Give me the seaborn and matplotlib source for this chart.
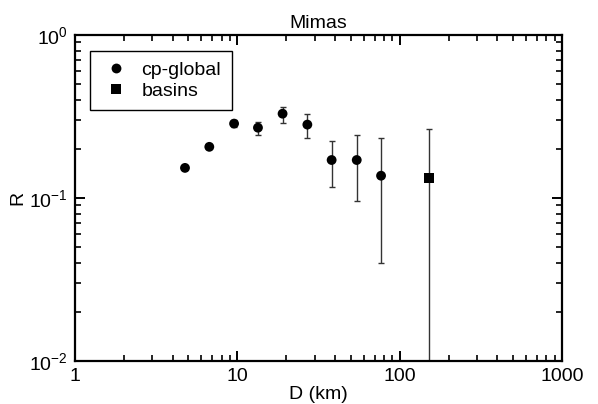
import numpy as np
import pandas as pd
import matplotlib
matplotlib.use("Agg")
import matplotlib.pyplot as plt
from matplotlib.ticker import LogLocator, NullFormatter, FixedLocator
import seaborn as sns

# ---- data ----
diam_km = [4.76, 6.72, 9.55, 13.4, 19.0, 27.0, 38.1, 54.4, 76.8, 152.0]
r_value = [0.153, 0.206, 0.286, 0.270, 0.329, 0.282, 0.171, 0.171, 0.137, 0.133]
r_low   = [0.153, 0.206, 0.272, 0.243, 0.287, 0.232, 0.116, 0.096, 0.040, 0.001]
r_high  = [0.153, 0.206, 0.300, 0.292, 0.364, 0.328, 0.223, 0.245, 0.232, 0.266]
group   = ["cp-global"] * 9 + ["basins"]
x_ticks = [1, 10, 100, 1000]
x_tick_labels = ["1", "10", "100", "1000"]
y_ticks = [0.01, 0.1, 1]
y_tick_labels = [r"$\mathregular{10^{-2}}$", r"$\mathregular{10^{-1}}$", r"$\mathregular{10^{0}}$"]

df = pd.DataFrame({"D": diam_km, "R": r_value, "lo": r_low, "hi": r_high, "group": group})

sns.set_style("ticks")
plt.rcParams["font.family"] = ["Liberation Sans", "DejaVu Sans"]
plt.rcParams["text.color"] = "black"
plt.rcParams["axes.labelcolor"] = "black"

fig = plt.figure(figsize=(5.98, 4.04), dpi=100)
ax = fig.add_axes([0.1254, 0.1064, 0.8144, 0.807])

yerr = np.array([df["R"] - df["lo"], df["hi"] - df["R"]])
ax.errorbar(df["D"], df["R"], yerr=yerr, fmt="none", ecolor="#333333",
            elinewidth=1.0, capsize=2.5, capthick=1.0, zorder=2)

sns.scatterplot(data=df, x="D", y="R", style="group", markers={"cp-global": "o", "basins": "s"},
                color="black", s=50, edgecolor="black", linewidth=0, ax=ax, zorder=3)

ax.set_xscale("log")
ax.set_yscale("log")
ax.set_xlim(1, 1000)
ax.set_ylim(0.01, 1)

ax.xaxis.set_major_locator(FixedLocator(x_ticks))
ax.set_xticklabels(x_tick_labels)
ax.xaxis.set_minor_locator(LogLocator(base=10, subs=np.arange(2, 10)))
ax.xaxis.set_minor_formatter(NullFormatter())
ax.yaxis.set_major_locator(FixedLocator(y_ticks))
ax.set_yticklabels(y_tick_labels)
ax.yaxis.set_minor_locator(LogLocator(base=10, subs=np.arange(2, 10)))
ax.yaxis.set_minor_formatter(NullFormatter())

ax.tick_params(which="both", direction="in", top=True, right=True, colors="black",
               labelsize=14)
ax.tick_params(which="major", length=7, width=1.4, pad=5)
ax.tick_params(which="minor", length=4, width=1.2)
for s in ax.spines.values():
    s.set_linewidth(1.6)
    s.set_color("black")

ax.set_xlabel("D (km)", fontsize=14, labelpad=1)
ax.set_ylabel("R", fontsize=14, labelpad=2)
ax.set_title("Mimas", fontsize=14, pad=5)

leg = ax.legend(loc="upper left", bbox_to_anchor=(0.031, 0.951), borderaxespad=0,
                fontsize=14, frameon=True, fancybox=False, edgecolor="black",
                borderpad=0.55, handletextpad=0.5, labelspacing=0.15, title=None,
                handlelength=1.6, framealpha=1)
leg.get_frame().set_linewidth(1.0)

fig.savefig("out.png", dpi=100, facecolor="white")
